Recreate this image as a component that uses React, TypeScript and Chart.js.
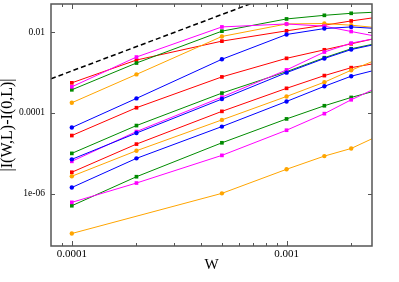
import React, { useEffect, useRef } from "react";
import { Chart, registerables } from "chart.js";

Chart.register(...registerables);

// W values (last one lies beyond the right edge and is clipped)
const W = [0.0001, 0.0002, 0.0005, 0.001, 0.0015, 0.002, 0.003];

const redA = [5.55e-4, 2.04e-3, 6.0e-3, 1.08e-2, 1.49e-2, 1.9e-2, 2.59e-2];
const magentaA = [4.42e-4, 2.42e-3, 1.35e-2, 1.6e-2, 1.41e-2, 1.04e-2, 6.88e-3];
const greenA = [3.73e-4, 1.72e-3, 1.06e-2, 2.13e-2, 2.62e-2, 2.94e-2, 3.25e-2];
const orangeA = [1.78e-4, 8.98e-4, 7.84e-3, 1.6e-2, 1.64e-2, 1.49e-2, 1.21e-2];
const blueA = [4.32e-5, 2.28e-4, 2.13e-3, 8.78e-3, 1.23e-2, 1.35e-2, 1.18e-2];

const redB = [2.74e-5, 1.34e-4, 7.79e-4, 2.25e-3, 3.66e-3, 5.15e-3, 8.34e-3];
const greenB = [9.89e-6, 4.84e-5, 3.09e-4, 1.05e-3, 2.33e-3, 3.88e-3, 6.11e-3];
const magentaB = [6.28e-6, 3.44e-5, 2.46e-4, 1.16e-3, 3.22e-3, 5.36e-3, 8.11e-3];
const blueB = [7.04e-6, 3.16e-5, 2.2e-4, 9.94e-4, 2.23e-3, 3.71e-3, 5.9e-3];

const redC = [3.37e-6, 1.68e-5, 1.09e-4, 4.06e-4, 8.39e-4, 1.32e-3, 1.93e-3];
const orangeC = [2.68e-6, 1.15e-5, 6.69e-5, 2.55e-4, 5.77e-4, 1.14e-3, 2.78e-3];
const blueC = [1.41e-6, 7.44e-6, 4.57e-5, 1.92e-4, 4.55e-4, 8.11e-4, 1.4e-3];
const greenC = [4.98e-7, 2.61e-6, 1.81e-5, 7.08e-5, 1.5e-4, 2.41e-4, 4.35e-4];
const magentaC = [6.04e-7, 1.82e-6, 8.83e-6, 3.71e-5, 9.56e-5, 2.11e-4, 5.77e-4];
const orangeD = [1.02e-7, null, 1.01e-6, 3.99e-6, 8.48e-6, 1.31e-5, 3.58e-5];

// reference dashed line (slope 2)
const refW = [8e-5, 0.001];
const refY = [7.0e-4, 0.11];

// axis ticks
const X_LABEL_TICKS = [0.0001, 0.001];
const X_LABELS = ["0.0001", "0.001"];
const X_MINOR_TICKS = [0.00009, 0.0002, 0.0003, 0.0004, 0.0005, 0.0006, 0.0007, 0.0008, 0.0009, 0.002];
const Y_LABEL_TICKS = [1e-6, 1e-4, 1e-2];
const Y_LABELS = ["1e-06", "0.0001", "0.01"];

const RED = "rgb(255,0,0)";
const MAGENTA = "rgb(255,0,255)";
const GREEN = "rgb(0,139,0)";
const ORANGE = "rgb(255,165,0)";
const BLUE = "rgb(0,0,255)";

const SERIES: [(number | null)[], string, string][] = [
  [orangeD, ORANGE, "circle"],
  [magentaC, MAGENTA, "rect"],
  [greenC, GREEN, "rect"],
  [blueC, BLUE, "circle"],
  [orangeC, ORANGE, "circle"],
  [redC, RED, "rect"],
  [blueB, BLUE, "circle"],
  [magentaB, MAGENTA, "rect"],
  [greenB, GREEN, "rect"],
  [redB, RED, "rect"],
  [blueA, BLUE, "circle"],
  [magentaA, MAGENTA, "rect"],
  [orangeA, ORANGE, "circle"],
  [greenA, GREEN, "rect"],
  [redA, RED, "rect"],
];

const frameTicks = {
  id: "frameTicks",
  afterDatasetsDraw(chart: any) {
    const { ctx, chartArea, scales } = chart;
    const { left, right, top, bottom } = chartArea;
    const xs = scales.x;
    const ys = scales.y;
    ctx.save();
    ctx.strokeStyle = "#555";
    ctx.lineWidth = 1.5;
    ctx.strokeRect(left, top, right - left, bottom - top);
    ctx.lineWidth = 1;
    const seg = (x1: number, y1: number, x2: number, y2: number) => {
      ctx.beginPath();
      ctx.moveTo(x1, y1);
      ctx.lineTo(x2, y2);
      ctx.stroke();
    };
    for (const v of X_LABEL_TICKS) {
      const p = Math.round(xs.getPixelForValue(v)) + 0.5;
      seg(p, bottom, p, bottom - 5);
      seg(p, top, p, top + 5);
    }
    for (const v of X_MINOR_TICKS) {
      const p = Math.round(xs.getPixelForValue(v)) + 0.5;
      seg(p, bottom, p, bottom - 3);
      seg(p, top, p, top + 3);
    }
    for (const v of Y_LABEL_TICKS) {
      const p = Math.round(ys.getPixelForValue(v)) + 0.5;
      seg(left, p, left + 4, p);
      seg(right, p, right - 4, p);
    }
    ctx.restore();
  },
};

export default function App() {
  const ref = useRef<HTMLCanvasElement | null>(null);
  useEffect(() => {
    if (!ref.current) return;
    const datasets: any[] = SERIES.map(([vals, color, style]) => ({
      data: W.map((w, i) => ({ x: w, y: vals[i] })),
      borderColor: color,
      backgroundColor: color,
      borderWidth: 1,
      pointStyle: style,
      pointRadius: style === "rect" ? 2.6 : 2.2,
      pointBorderWidth: 0,
      spanGaps: true,
      tension: 0,
    }));
    datasets.push({
      data: refW.map((w, i) => ({ x: w, y: refY[i] })),
      borderColor: "#000",
      borderWidth: 1.5,
      borderDash: [5, 3],
      pointRadius: 0,
      tension: 0,
    });
    const chart = new Chart(ref.current, {
      type: "line",
      data: { datasets },
      plugins: [frameTicks],
      options: {
        animation: false,
        responsive: false,
        layout: { padding: { left: 0, top: 3, right: 27, bottom: 0 } },
        plugins: { legend: { display: false }, tooltip: { enabled: false } },
        scales: {
          x: {
            type: "logarithmic",
            min: 0.00008,
            max: 0.0025,
            grid: { display: false, drawTicks: false },
            border: { display: false },
            afterBuildTicks: (s: any) => {
              s.ticks = X_LABEL_TICKS.map((v) => ({ value: v }));
            },
            afterFit: (s: any) => {
              s.height = 36;
              s.paddingLeft = 0;
              s.paddingRight = 0;
            },
            ticks: {
              padding: 2,
              maxRotation: 0,
              autoSkip: false,
              color: "#000",
              font: { family: "'Liberation Serif', serif", size: 11 },
              callback: (v: any) => {
                const i = X_LABEL_TICKS.indexOf(Number(v));
                return i >= 0 ? X_LABELS[i] : "";
              },
            },
            title: {
              display: true,
              text: "W",
              color: "#000",
              font: { family: "'Liberation Serif', serif", size: 15 },
              padding: { top: 0, bottom: 8 },
            },
          },
          y: {
            type: "logarithmic",
            min: 5e-8,
            max: 0.05,
            grid: { display: false, drawTicks: false },
            border: { display: false },
            afterBuildTicks: (s: any) => {
              s.ticks = Y_LABEL_TICKS.map((v) => ({ value: v }));
            },
            afterFit: (s: any) => {
              s.width = 51;
              s.paddingTop = 0;
              s.paddingBottom = 0;
            },
            ticks: {
              padding: 6,
              autoSkip: false,
              color: "#000",
              font: { family: "'Liberation Serif', serif", size: 9.5 },
              callback: (v: any) => {
                const i = Y_LABEL_TICKS.indexOf(Number(v));
                return i >= 0 ? Y_LABELS[i] : "";
              },
            },
            title: {
              display: true,
              text: "|I(W,L)-I(0,L)|",
              color: "#000",
              font: { family: "'Liberation Serif', serif", size: 16, lineHeight: 1.0 },
              padding: { top: 0, bottom: 0 },
            },
          },
        },
      },
    });
    return () => chart.destroy();
  }, []);
  return (
    <div style={{ position: "fixed", left: 0, top: 0, width: 399, height: 282, background: "#fff" }}>
      <canvas ref={ref} width={399} height={282} style={{ width: 399, height: 282, display: "block" }} />
    </div>
  );
}
